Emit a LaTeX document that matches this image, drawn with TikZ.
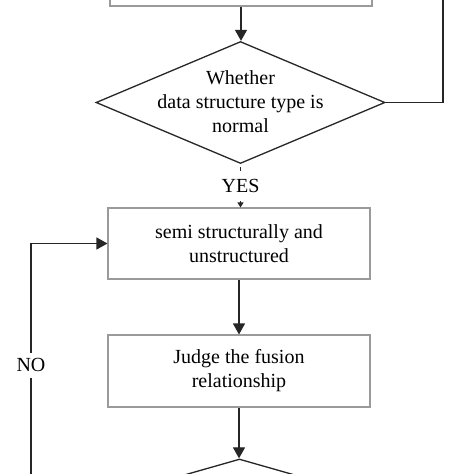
\documentclass[tikz,border=0pt]{standalone}
\usepackage{fontspec}
\setmainfont{Liberation Serif}
\usetikzlibrary{shapes.geometric,arrows.meta}
\definecolor{boxgray}{HTML}{9A9A9A}
\definecolor{linedark}{HTML}{262626}
\begin{document}
\begin{tikzpicture}[x=1pt,y=-1pt,
  lbl/.style={align=center, font=\fontsize{20}{24}\selectfont, inner sep=0pt},
  box/.style={lbl, draw=boxgray, line width=1.1pt, minimum width=262pt, minimum height=71pt},
  dia/.style={draw=linedark, line width=1.3pt, shape=diamond, inner sep=0pt},
  conn/.style={draw=linedark, line width=1.2pt},
  arr/.style={conn, -{Triangle[length=11pt,width=12pt]}},
  gaplabel/.style={lbl, fill=white, inner xsep=2pt},
]
\useasboundingbox (0,0) rectangle (474,474);
\clip (0,0) rectangle (474,474);
\fill[white] (0,0) rectangle (474,474);

\node[box, minimum height=60pt] (top) at (241,-24) {};
\node[dia, minimum width=289pt, minimum height=122pt] (d1) at (240.5,102.5) {};
\node[lbl] (d1t) at (240.5,102) {Whether\\data structure type is\\normal};
\node[box] (b2) at (239,243.5) {semi structurally and\\unstructured};
\node[box, minimum height=72pt] (b3) at (239,371) {Judge the fusion\\relationship};
\node[dia, minimum width=420pt, minimum height=120pt] (d2) at (239.5,519) {};
\coordinate (rt) at (443,-40);
\coordinate (lb) at (31,487);

\draw[arr] (top.south) -- (top.south |- d1.north);
\draw[conn, line width=1pt, -{Triangle[length=5pt,width=6pt]}, shorten <=3pt]
  (d1.south) -- node[gaplabel, inner ysep=8pt] (yes) {YES} (d1.south |- b2.north);
\draw[arr] (b2.south) -- (b3.north);
\draw[arr] (b3.south) -- (b3.south |- d2.north);
\draw[conn] (d1.east) -| (rt);
\draw[arr] (lb) |- node[gaplabel, pos=0.25, inner ysep=6pt] (no) {NO} (b2.west);
\end{tikzpicture}
\end{document}
